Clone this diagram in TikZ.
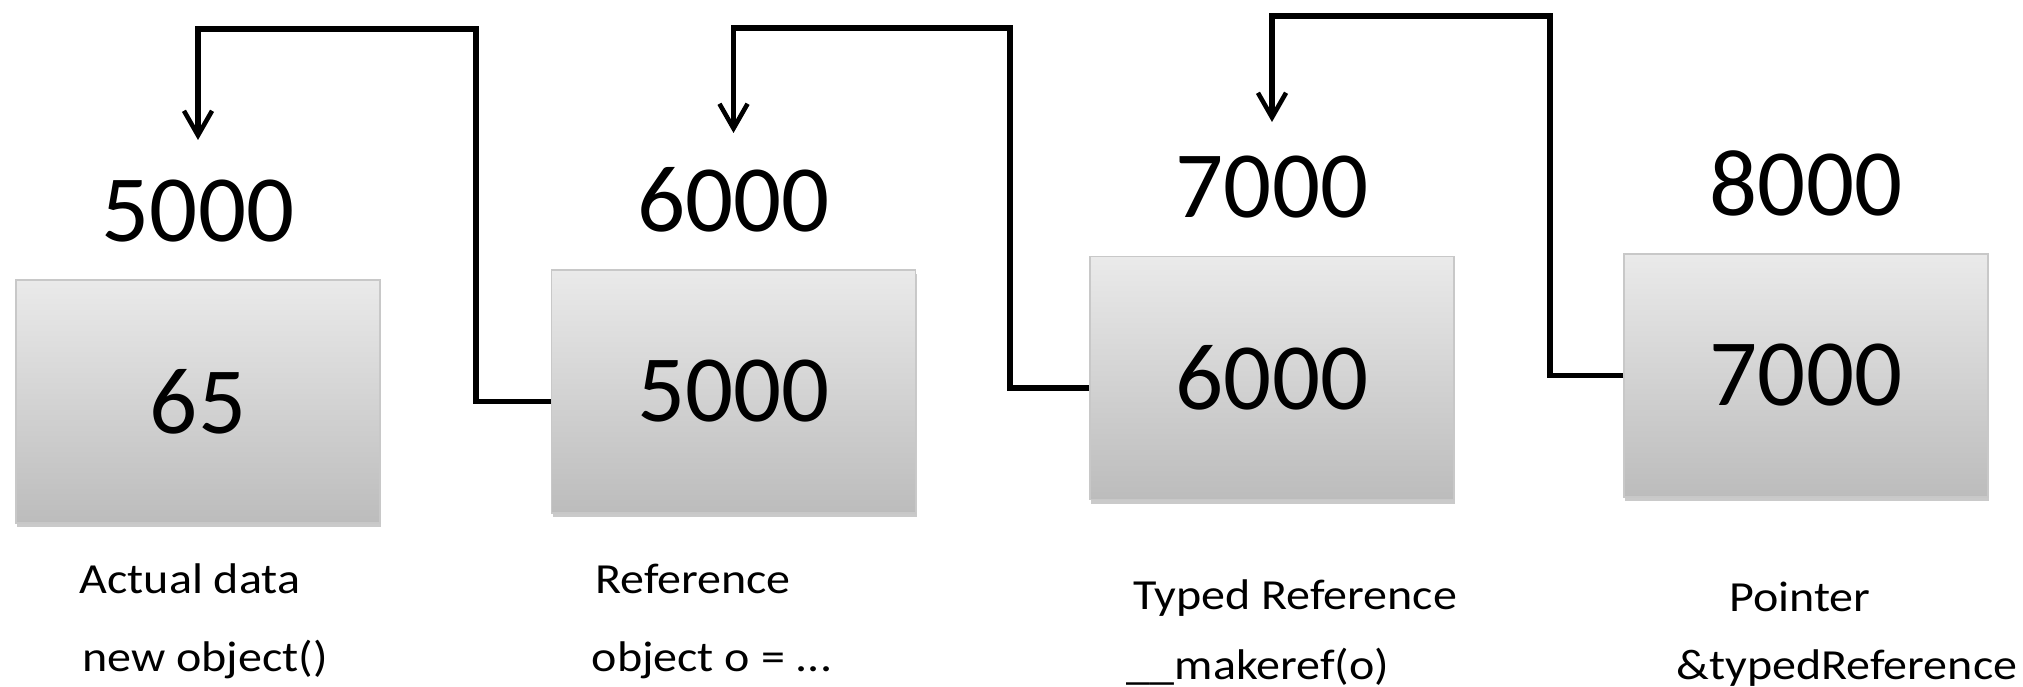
\documentclass[tikz,border=0pt]{standalone}
\usepackage{fontspec}
\setmainfont{Carlito}
\newfontfamily\capfont[FakeStretch=1.12]{Carlito}
\usetikzlibrary{positioning,arrows.meta,shadows}

\definecolor{boxtop}{RGB}{234,234,234}
\definecolor{boxbot}{RGB}{188,188,188}
\definecolor{boxline}{RGB}{200,200,200}

\tikzset{
    cell/.style={draw=boxline, line width=0.6pt, top color=boxtop, bottom color=boxbot,
        minimum width=7.28cm, minimum height=4.86cm, inner sep=0pt,
        font=\fontsize{54}{60}\selectfont,
        drop shadow={shadow xshift=0.6pt, shadow yshift=-2.5pt, opacity=0.35, fill=black!60}},
    addr/.style={inner sep=0pt, font=\fontsize{54}{60}\selectfont},
    caption/.style={anchor=base, inner sep=0pt, font=\capfont\fontsize{24.4}{28}\selectfont},
    ptr/.style={line width=3.4pt, -{Straight Barb[length=14pt, width=16pt, line width=2.6pt]}}
}

\begin{document}
\begin{tikzpicture}
    \useasboundingbox (0,0) rectangle (40.46,13.74);

    % Memory cells
    \node[cell] (b1) at (3.96, 5.71) {65};
    \node[cell] (b2) at (14.67, 5.91) {5000};
    \node[cell] (b3) at (25.44, 6.18) {6000};
    \node[cell] (b4) at (36.12, 6.23) {7000};

    % Addresses
    \node[addr, above=0.74cm of b1] (a1) {5000};
    \node[addr, above=0.74cm of b2] (a2) {6000};
    \node[addr, above=0.74cm of b3] (a3) {7000};
    \node[addr, above=0.74cm of b4] (a4) {8000};

    % Arrow ends and corners
    \coordinate (t1) at (3.96, 10.94);
    \coordinate (t2) at (14.67, 11.08);
    \coordinate (t3) at (25.44, 11.30);
    \coordinate (c1) at (9.52, 13.16);
    \coordinate (c2) at (20.20, 13.18);
    \coordinate (c3) at (31.00, 13.42);

    % Pointers back to the previous cell
    \draw[ptr] ([yshift=-0.2cm]b2.west) -| (c1) -| (t1);
    \draw[ptr] ([yshift=-0.2cm]b3.west) -| (c2) -| (t2);
    \draw[ptr] (b4.west) -| (c3) -| (t3);

    % Captions
    \node[caption] (d1) at (3.80, 1.86) {Actual data};
    \node[caption] (e1) at (4.10, 0.30) {new object()};
    \node[caption] (d2) at (13.86, 1.86) {Reference};
    \node[caption] (e2) at (14.24, 0.30) {object o = ...};
    \node[caption] (d3) at (25.90, 1.54) {Typed Reference};
    \node[caption] (e3) at (25.16, 0.15) {\_\_makeref(o)};
    \node[caption] (d4) at (36.00, 1.50) {Pointer};
    \node[caption] (e4) at (36.94, 0.14) {\&typedReference};
\end{tikzpicture}
\end{document}
